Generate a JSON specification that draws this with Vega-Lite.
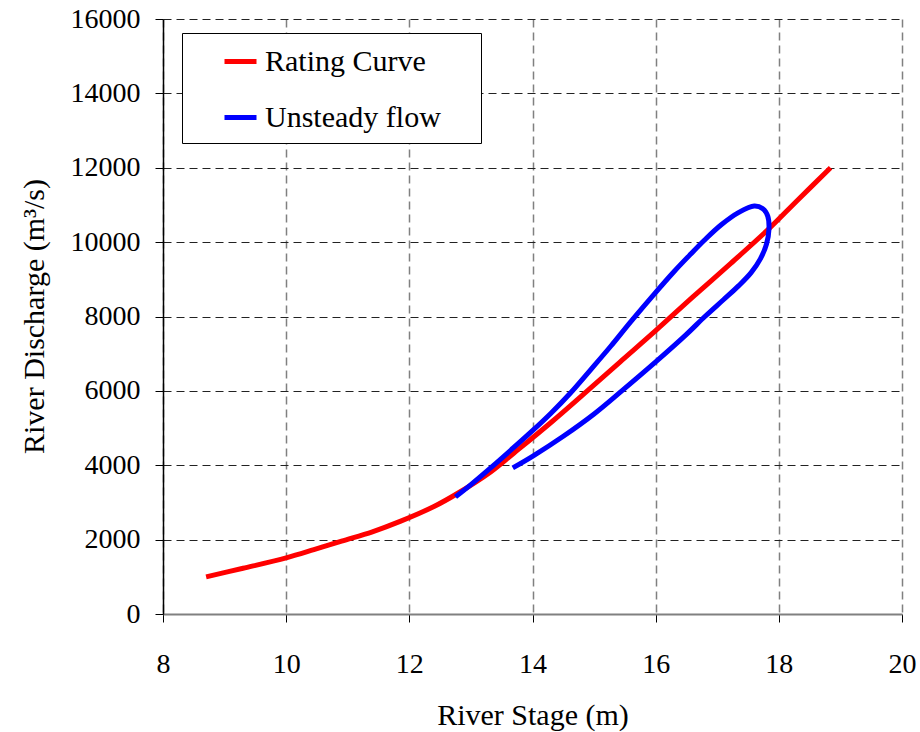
{
  "$schema": "https://vega.github.io/schema/vega-lite/v6.json",
  "width": 739,
  "height": 595,
  "autosize": {"type": "none"},
  "padding": {"left": 163, "top": 19, "right": 18, "bottom": 118},
  "background": "white",
  "config": {
    "view": {"stroke": null},
    "font": "Liberation Serif"
  },
  "data": {
    "values": [
      {"series": "Rating Curve", "i": 1, "x": 8.70, "y": 1000},
      {"series": "Rating Curve", "i": 2, "x": 9.30, "y": 1230},
      {"series": "Rating Curve", "i": 3, "x": 10.00, "y": 1510},
      {"series": "Rating Curve", "i": 4, "x": 10.45, "y": 1730},
      {"series": "Rating Curve", "i": 5, "x": 10.90, "y": 1960},
      {"series": "Rating Curve", "i": 6, "x": 11.40, "y": 2210},
      {"series": "Rating Curve", "i": 7, "x": 11.85, "y": 2490},
      {"series": "Rating Curve", "i": 8, "x": 12.40, "y": 2890},
      {"series": "Rating Curve", "i": 9, "x": 12.78, "y": 3240},
      {"series": "Rating Curve", "i": 10, "x": 13.32, "y": 3820},
      {"series": "Rating Curve", "i": 11, "x": 13.70, "y": 4330},
      {"series": "Rating Curve", "i": 12, "x": 14.30, "y": 5150},
      {"series": "Rating Curve", "i": 13, "x": 14.89, "y": 6000},
      {"series": "Rating Curve", "i": 14, "x": 15.45, "y": 6820},
      {"series": "Rating Curve", "i": 15, "x": 16.00, "y": 7620},
      {"series": "Rating Curve", "i": 16, "x": 16.60, "y": 8520},
      {"series": "Rating Curve", "i": 17, "x": 17.22, "y": 9430},
      {"series": "Rating Curve", "i": 18, "x": 17.82, "y": 10330},
      {"series": "Rating Curve", "i": 19, "x": 18.30, "y": 11120},
      {"series": "Rating Curve", "i": 20, "x": 18.84, "y": 12000},
      {"series": "Unsteady flow", "i": 1, "x": 12.75, "y": 3150},
      {"series": "Unsteady flow", "i": 2, "x": 13.00, "y": 3480},
      {"series": "Unsteady flow", "i": 3, "x": 13.32, "y": 3930},
      {"series": "Unsteady flow", "i": 4, "x": 13.65, "y": 4410},
      {"series": "Unsteady flow", "i": 5, "x": 14.00, "y": 4930},
      {"series": "Unsteady flow", "i": 6, "x": 14.30, "y": 5400},
      {"series": "Unsteady flow", "i": 7, "x": 14.62, "y": 5950},
      {"series": "Unsteady flow", "i": 8, "x": 14.95, "y": 6580},
      {"series": "Unsteady flow", "i": 9, "x": 15.27, "y": 7200},
      {"series": "Unsteady flow", "i": 10, "x": 15.60, "y": 7870},
      {"series": "Unsteady flow", "i": 11, "x": 15.98, "y": 8610},
      {"series": "Unsteady flow", "i": 12, "x": 16.30, "y": 9210},
      {"series": "Unsteady flow", "i": 13, "x": 16.57, "y": 9680},
      {"series": "Unsteady flow", "i": 14, "x": 16.79, "y": 10050},
      {"series": "Unsteady flow", "i": 15, "x": 17.06, "y": 10460},
      {"series": "Unsteady flow", "i": 16, "x": 17.35, "y": 10800},
      {"series": "Unsteady flow", "i": 17, "x": 17.60, "y": 10970},
      {"series": "Unsteady flow", "i": 18, "x": 17.74, "y": 10900},
      {"series": "Unsteady flow", "i": 19, "x": 17.82, "y": 10700},
      {"series": "Unsteady flow", "i": 20, "x": 17.84, "y": 10350},
      {"series": "Unsteady flow", "i": 21, "x": 17.80, "y": 9950},
      {"series": "Unsteady flow", "i": 22, "x": 17.70, "y": 9550},
      {"series": "Unsteady flow", "i": 23, "x": 17.55, "y": 9180},
      {"series": "Unsteady flow", "i": 24, "x": 17.35, "y": 8830},
      {"series": "Unsteady flow", "i": 25, "x": 17.10, "y": 8450},
      {"series": "Unsteady flow", "i": 26, "x": 16.80, "y": 8000},
      {"series": "Unsteady flow", "i": 27, "x": 16.50, "y": 7520},
      {"series": "Unsteady flow", "i": 28, "x": 16.00, "y": 6780},
      {"series": "Unsteady flow", "i": 29, "x": 15.45, "y": 6000},
      {"series": "Unsteady flow", "i": 30, "x": 15.00, "y": 5380},
      {"series": "Unsteady flow", "i": 31, "x": 14.50, "y": 4780},
      {"series": "Unsteady flow", "i": 32, "x": 14.00, "y": 4240},
      {"series": "Unsteady flow", "i": 33, "x": 13.68, "y": 3930}
    ]
  },
  "mark": {"type": "line", "strokeWidth": 5, "interpolate": "catmull-rom"},
  "encoding": {
    "x": {
      "field": "x", "type": "quantitative",
      "scale": {"domain": [8, 20], "nice": false},
      "axis": {
        "title": "River Stage (m)",
        "values": [8, 10, 12, 14, 16, 18, 20],
        "format": "d",
        "titleFont": "Liberation Serif", "titleFontSize": 30, "titleFontWeight": "normal", "titleColor": "black",
        "titleBaseline": "alphabetic", "titleY": 110,
        "labelFont": "Liberation Serif", "labelFontSize": 28, "labelColor": "black",
        "labelBaseline": "alphabetic", "labelPadding": 50, "labelFlush": false,
        "domainColor": "#808080", "domainWidth": 2,
        "tickColor": "black", "tickSize": 8, "tickWidth": 1,
        "grid": true, "gridColor": "#808080", "gridDash": [8, 5], "gridWidth": 1.5
      }
    },
    "y": {
      "field": "y", "type": "quantitative",
      "scale": {"domain": [0, 16000], "nice": false},
      "axis": {
        "title": "River Discharge (m³/s)",
        "values": [0, 2000, 4000, 6000, 8000, 10000, 12000, 14000, 16000],
        "format": "d",
        "titleFont": "Liberation Serif", "titleFontSize": 30, "titleFontWeight": "normal", "titleColor": "black",
        "titleAngle": -90, "titleBaseline": "alphabetic", "titleX": -120, "titleY": 297,
        "labelFont": "Liberation Serif", "labelFontSize": 28, "labelColor": "black",
        "labelPadding": 15, "labelFlush": false,
        "domainColor": "black", "domainWidth": 1.5,
        "tickColor": "black", "tickSize": 8, "tickWidth": 1,
        "grid": true, "gridColor": "#222222", "gridDash": [8, 5], "gridWidth": 1
      }
    },
    "color": {
      "field": "series", "type": "nominal",
      "scale": {"domain": ["Rating Curve", "Unsteady flow"], "range": ["#FF0000", "#0000FF"]},
      "legend": {
        "title": "\u00a0",
        "titleOrient": "right", "titlePadding": 30, "titleFontSize": 1,
        "orient": "none", "legendX": 19, "legendY": 14,
        "strokeColor": "black", "fillColor": "white", "padding": 10,
        "symbolType": "stroke", "symbolSize": 1024, "symbolStrokeWidth": 5,
        "symbolOffset": 30, "labelOffset": 6,
        "labelFont": "Liberation Serif", "labelFontSize": 30, "labelColor": "black",
        "labelLimit": 400, "rowPadding": 22
      }
    },
    "order": {"field": "i", "type": "quantitative"}
  }
}
